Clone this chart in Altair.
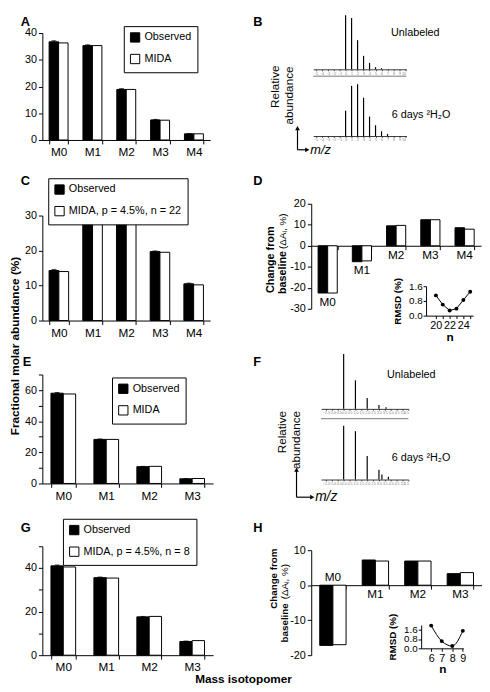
import altair as alt
import pandas as pd

FONT = "Liberation Sans"
OBS = "Observed"
MIDA_A = "MIDA"
MIDA_C = "MIDA, p = 4.5%, n = 22"
MIDA_E = "MIDA"
MIDA_G = "MIDA, p = 4.5%, n = 8"

ISO5 = ["M0", "M1", "M2", "M3", "M4"]
ISO4 = ["M0", "M1", "M2", "M3"]

A_OBS = [36.7, 35.3, 18.9, 7.5, 2.3]
A_MIDA = [36.3, 35.3, 18.9, 7.4, 2.3]
A_ERR = [0.4, 0.3, 0.3, 0.2, 0.1]
C_OBS = [14.3, 27.8, 28.5, 19.7, 10.5]
C_MIDA = [14.0, 28.1, 28.6, 19.5, 10.2]
C_ERR = [0.3, 0.3, 0.3, 0.2, 0.2]
E_OBS = [58.0, 28.3, 10.8, 3.0]
E_MIDA = [57.5, 28.3, 11.0, 3.2]
E_ERR = [0.4, 0.3, 0.2, 0.2]
G_OBS = [41.0, 35.6, 17.6, 6.3]
G_MIDA = [40.5, 35.4, 17.8, 6.7]
G_ERR = [0.4, 0.3, 0.2, 0.2]

D_OBS = [-22.5, -7.6, 9.5, 12.4, 8.6]
D_MIDA = [-22.5, -7.2, 9.7, 12.4, 7.9]
H_OBS = [-17.2, 7.2, 6.9, 3.3]
H_MIDA = [-17.0, 6.9, 6.9, 3.6]

D_N = [20, 21, 22, 23, 24, 25]
D_RMSD = [1.1, 0.6, 0.28, 0.38, 0.85, 1.3]
H_N = [6, 7, 8, 9]
H_RMSD = [1.95, 0.62, 0.2, 1.5]

# mass spectra: m/z offset from M0 and relative abundance
B_UN_MZ = [0, 1, 2, 3, 4, 5, 6]
B_UN_AB = [100, 95, 54, 25, 12, 4, 2]
B_LAB_MZ = [0, 1, 2, 3, 4, 5, 6, 7]
B_LAB_AB = [47, 93, 96, 71, 36, 20, 9, 4]
F_UN_MZ = [0, 1, 2, 3, 3.6]
F_UN_AB = [100, 52, 20, 7, 3]
F_LAB_MZ = [0, 1, 2, 3, 3.25, 3.8]
F_LAB_AB = [98, 88, 43, 18, 9, 5]


def note(text, x, y, size=12, weight="normal", angle=0, align="left",
         baseline="alphabetic", italic=False):
    kw = dict(fontSize=size, fontWeight=weight, align=align, baseline=baseline,
              color="black")
    if angle:
        kw["angle"] = angle
    if italic:
        kw["fontStyle"] = "italic"
    return alt.Chart(pd.DataFrame({"t": [text]})).mark_text(**kw).encode(
        x=alt.value(x), y=alt.value(y), text="t:N")


def seg(x1, y1, x2, y2):
    return alt.Chart(pd.DataFrame({"a": [0]})).mark_rule(
        color="black", strokeWidth=1.2).encode(
        x=alt.value(x1), y=alt.value(y1), x2=alt.value(x2), y2=alt.value(y2))


def head(x, y, shape):
    return alt.Chart(pd.DataFrame({"a": [0]})).mark_point(
        shape=shape, filled=True, size=24, color="black", opacity=1).encode(
        x=alt.value(x), y=alt.value(y))


def spacer(h):
    return alt.Chart(pd.DataFrame({"a": [0]})).mark_point(opacity=0).encode(
        x=alt.value(1), y=alt.value(1)).properties(width=10, height=h)


def legend(lx, ly):
    return alt.Legend(title=None, orient="none", legendX=lx, legendY=ly,
                      strokeColor="black", fillColor="white", padding=6,
                      symbolType="square", symbolSize=90,
                      symbolStrokeColor="black", symbolStrokeWidth=1,
                      symbolOpacity=1, labelFontSize=11, labelColor="black",
                      rowPadding=7, labelOffset=4, labelLimit=300)


def yaxis(values, expr):
    return alt.Axis(title=None, values=values, labelFontSize=11, tickSize=4,
                    labelPadding=2, labelExpr=expr, labelOverlap=False)


def bar_panel(cats, obs, mida, err, mida_lab, ymax, yticks, every, width,
              height, pin, leg, notes):
    n = len(cats)
    dom = [OBS, mida_lab]
    df = pd.DataFrame({"iso": cats + cats,
                       "series": [OBS] * n + [mida_lab] * n,
                       "value": obs + mida})
    edf = pd.DataFrame({"iso": cats, "series": [OBS] * n,
                        "lo": [v - e for v, e in zip(obs, err)],
                        "hi": [v + e for v, e in zip(obs, err)]})
    x = alt.X("iso:N", sort=cats, scale=alt.Scale(paddingInner=pin),
              axis=alt.Axis(title=None, labelAngle=0, labelFontSize=12,
                            tickBand="extent", tickSize=4, labelPadding=3))
    xo = alt.XOffset("series:N", sort=dom, scale=alt.Scale(domain=dom))
    ax = yaxis(yticks, f"datum.value % {every} == 0 ? '' + datum.value : ''")
    sc = alt.Scale(domain=[0, ymax], nice=False)
    color = alt.Color("series:N", sort=dom,
                      scale=alt.Scale(domain=dom, range=["black", "white"]),
                      legend=legend(*leg))
    bars = alt.Chart(df).mark_bar(stroke="black", strokeWidth=1).encode(
        x=x, xOffset=xo, y=alt.Y("value:Q", scale=sc, axis=ax), color=color)
    erule = alt.Chart(edf).mark_rule(color="black", strokeWidth=1).encode(
        x=x, xOffset=xo, y=alt.Y("lo:Q", scale=sc, axis=ax), y2="hi:Q")
    ecap = alt.Chart(edf).mark_tick(color="black", thickness=1, size=5).encode(
        x=x, xOffset=xo, y=alt.Y("hi:Q", scale=sc, axis=ax))
    return alt.layer(bars, erule, ecap, *notes).properties(width=width, height=height)


def change_panel(cats, obs, mida, ydom, yticks, width, height, pin, below,
                 above, ins, notes, lab_size=12):
    n = len(cats)
    dom = [OBS, MIDA_A]
    df = pd.DataFrame({"iso": cats + cats, "series": [OBS] * n + [MIDA_A] * n,
                       "value": obs + mida})
    y0 = height * ydom[1] / (ydom[1] - ydom[0])
    xax = alt.Axis(title=None, labels=False, tickBand="extent", tickSize=4,
                   orient="bottom", offset=y0 - height)
    xsc = alt.Scale(paddingInner=pin)
    x = alt.X("iso:N", sort=cats, scale=xsc, axis=xax)
    xo = alt.XOffset("series:N", sort=dom, scale=alt.Scale(domain=dom))
    ax = yaxis(yticks, "'' + datum.value")
    sc = alt.Scale(domain=ydom, nice=False)
    color = alt.Color("series:N", sort=dom,
                      scale=alt.Scale(domain=dom, range=["black", "white"]),
                      legend=None)
    bars = alt.Chart(df).mark_bar(stroke="black", strokeWidth=1).encode(
        x=x, xOffset=xo, y=alt.Y("value:Q", scale=sc, axis=ax), color=color)
    layers = [bars]
    if below:
        bdf = pd.DataFrame({"iso": [c for c, _ in below], "ly": [v for _, v in below]})
        layers.append(alt.Chart(bdf).mark_text(fontSize=lab_size, baseline="top", dy=4,
                                               color="black").encode(
            x=x, y=alt.Y("ly:Q", scale=sc, axis=ax), text="iso:N"))
    if above:
        adf = pd.DataFrame({"iso": [c for c, _ in above], "ly": [v for _, v in above]})
        layers.append(alt.Chart(adf).mark_text(fontSize=lab_size, baseline="bottom", dy=-1,
                                               color="black").encode(
            x=x, y=alt.Y("ly:Q", scale=sc, axis=ax), text="iso:N"))
    main = alt.layer(*layers, *notes)

    idf = pd.DataFrame({"n": ins["n"], "r": ins["r"]})
    ix = alt.X("n:Q", scale=alt.Scale(domain=ins["xdom"], range=ins["xr"],
                                      nice=False, zero=False),
               axis=alt.Axis(orient="bottom", offset=ins["xoff"], values=ins["xv"],
                             labelExpr=ins["xlab"], title="n", titleFontSize=12,
                             titleFontWeight="bold", labelFontSize=11, tickSize=3,
                             labelPadding=1, titlePadding=1, labelFlush=False,
                             labelOverlap=False))
    iy = alt.Y("r:Q", scale=alt.Scale(domain=ins["ydom"], range=ins["yr"],
                                      nice=False, zero=False),
               axis=alt.Axis(orient="left", offset=ins["yoff"], values=[0, 0.8, 1.6],
                             format=".1f", title="RMSD (%)", titleFontSize=10,
                             titleFontWeight="bold", labelFontSize=10, tickSize=3,
                             labelPadding=1, titlePadding=6, labelOverlap=False,
                             labelFlush=False))
    line = alt.Chart(idf).mark_line(color="black", strokeWidth=1,
                                    interpolate=ins["interp"]).encode(x=ix, y=iy)
    pts = alt.Chart(idf).mark_point(filled=True, color="black", size=16,
                                    opacity=1).encode(x=ix, y=iy)
    inset = alt.layer(line, pts)
    return alt.layer(main, inset).resolve_scale(
        x="independent", y="independent").properties(width=width, height=height)


def spectrum(mz, ab, xdom, xr, ydom, width, height, sep=None, notes=()):
    df = pd.DataFrame({"mz": mz, "ab": ab})
    xsc = alt.Scale(domain=xdom, range=xr, nice=False, zero=False)
    xax = alt.Axis(title=None, labelFontSize=3.5, labelColor="#777",
                   tickSize=1.5, domainWidth=0.8, tickWidth=0.6,
                   labelPadding=0.5, tickCount=12)
    ysc = alt.Scale(domain=ydom, nice=False, zero=False)
    peaks = alt.Chart(df).mark_rule(color="black", strokeWidth=1.2).encode(
        x=alt.X("mz:Q", scale=xsc, axis=xax),
        y=alt.Y("ab:Q", scale=ysc, axis=None), y2=alt.datum(0))
    layers = [peaks]
    if sep is not None:
        sdf = pd.DataFrame({"a": [xdom[0]], "b": [xdom[1]], "s": [sep]})
        layers.append(alt.Chart(sdf).mark_rule(color="#555", strokeWidth=0.8).encode(
            x=alt.X("a:Q", scale=xsc, axis=xax), x2="b:Q",
            y=alt.Y("s:Q", scale=ysc, axis=None)))
    return alt.layer(*layers, *notes).properties(width=width, height=height)


RES = dict(x="independent", y="independent", color="independent",
           xOffset="independent")
LAB = 13  # panel letter size

# ---------------- left column ----------------
A = bar_panel(ISO5, A_OBS, A_MIDA, A_ERR, MIDA_A, 40, [0, 10, 20, 30, 40], 10,
              171, 109, 0.44, (83, -7), [note("A", -22, -7.6, LAB, "bold")])
C = bar_panel(ISO5, C_OBS, C_MIDA, C_ERR, MIDA_C, 30, [0, 10, 20, 30], 10,
              171, 107, 0.42, (6, -38),
              [note("C", -22, -31, LAB, "bold"),
               note("Fractional molar abundance (%)", -28, 133, 12, "bold", 270,
                    "center", "middle")])
E = bar_panel(ISO4, E_OBS, E_MIDA, E_ERR, MIDA_E, 70,
              [0, 10, 20, 30, 40, 50, 60, 70], 20, 174, 111, 0.425, (71, 3),
              [note("E", -20, -9, LAB, "bold")])
G = bar_panel(ISO4, G_OBS, G_MIDA, G_ERR, MIDA_G, 50, [0, 10, 20, 30, 40, 50], 20,
              174, 111, 0.425, (21, -28),
              [note("G", -22, -15, LAB, "bold"),
               note("Mass isotopomer", 205, 139, 12, "bold", 0, "center")])

LEFT = alt.vconcat(A, spacer(77), C, spacer(55), E, spacer(64), G,
                   spacing=0, bounds="flush").resolve_scale(**RES)

# ---------------- right column ----------------
B_XDOM = [-5.41, 10.16]
B_XR = [2, 97]
F_XDOM = [-1.92, 5.5]
F_XR = [10, 99]

BU = spectrum(B_UN_MZ, B_UN_AB, B_XDOM, B_XR, [0, 67.3], 174, 37, sep=-12.7,
              notes=[note("B", -59, -7.6, LAB, "bold"),
                     note("Unlabeled", 106, 0, 11, align="center", baseline="middle")])
BL = spectrum(B_LAB_MZ, B_LAB_AB, B_XDOM, B_XR, [0, 107.3], 174, 59,
              notes=[note("Relative", -37, -13, 12, angle=270, align="right",
                          baseline="middle"),
                     note("abundance", -23, -12, 12, angle=270, align="right",
                          baseline="middle"),
                     note("6 days ²H₂O", 82, 38, 11, baseline="middle"),
                     seg(-14, 52, -14, 73), seg(-14, 73, -5, 73),
                     head(-14, 51, "triangle-up"), head(-4, 73, "triangle-right"),
                     note("m/z", -1, 73, 13, baseline="middle", italic=True)])

D = change_panel(ISO5, D_OBS, D_MIDA, [-30, 20], [-30, -20, -10, 0, 10, 20], 173, 107,
                 0.44,
                 below=[("M0", -22.5), ("M1", -7.6), ("M2", 0), ("M3", 0), ("M4", 0)],
                 above=[],
                 ins=dict(n=D_N, r=D_RMSD, xdom=[18.57, 25.43], xr=[117, 165],
                          xoff=7, xv=[20, 21, 22, 23, 24, 25],
                          xlab="datum.value % 2 == 0 ? datum.label : ''",
                          ydom=[0, 1.6], yr=[114, 84], yoff=-117, interp="linear"),
                 notes=[note("D", -59, -19, LAB, "bold"),
                        note("Change from", -41, 57, 11, "bold", 270, "center", "middle"),
                        note("baseline", -29, 92, 11, "bold", 270, "left", "middle"),
                        note("(ΔAᵢ, %)", -29, 46, 10, "normal", 270, "left", "middle")])

FU = spectrum(F_UN_MZ, F_UN_AB, F_XDOM, F_XR, [0, 100], 174, 56, sep=-17.9,
              notes=[note("F", -59, 12, LAB, "bold"),
                     note("Unlabeled", 102, 22, 11, align="center", baseline="middle")])
FL = spectrum(F_LAB_MZ, F_LAB_AB, F_XDOM, F_XR, [0, 101.8], 174, 57,
              notes=[note("Relative", -30, -13, 12, angle=270, align="right",
                          baseline="middle"),
                     note("abundance", -15, -13, 12, angle=270, align="right",
                          baseline="middle"),
                     note("6 days ²H₂O", 82, 35, 11, baseline="middle"),
                     seg(-15, 48, -15, 75), seg(-15, 75, 0, 75),
                     head(-15, 47, "triangle-up"), head(1, 75, "triangle-right"),
                     note("m/z", 4, 75, 14, baseline="middle", italic=True)])

H = change_panel(ISO4, H_OBS, H_MIDA, [-20, 10], [-20, -10, 0, 10], 174, 107, 0.38,
                 below=[("M1", 0), ("M2", 0), ("M3", 0)],
                 above=[("M0", 0)],
                 ins=dict(n=H_N, r=H_RMSD, xdom=[5.05, 9.05], xr=[112, 155],
                          xoff=-7, xv=[6, 7, 8, 9], xlab="datum.label",
                          ydom=[0, 2.0], yr=[100, 76.25], yoff=-112,
                          interp="monotone"),
                 notes=[note("H", -59, -19, LAB, "bold"),
                        note("Change from", -38, 29, 10, "bold", 270, "center", "middle"),
                        note("baseline", -27, 94, 10, "bold", 270, "left", "middle"),
                        note("(ΔAᵢ, %)", -27, 50, 10, "normal", 270, "left", "middle")])

RIGHT = alt.vconcat(BU, spacer(9), BL, spacer(69), D, spacer(46), FU, spacer(15),
                    FL, spacer(72), H, spacing=0, bounds="flush").resolve_scale(**RES)

# nested columns count as zero width under flush bounds: spacing = offset of right column
chart = alt.hconcat(LEFT, RIGHT, spacing=274, bounds="flush").resolve_scale(
    **RES).properties(padding=0).configure(font=FONT).configure_view(
    stroke=None).configure_axis(grid=False, domainColor="black", tickColor="black",
                                labelColor="black", titleColor="black",
                                domainWidth=1, tickWidth=1, labelOverlap=False)

chart.save("out.html", embed_options={"renderer": "svg", "actions": False})
